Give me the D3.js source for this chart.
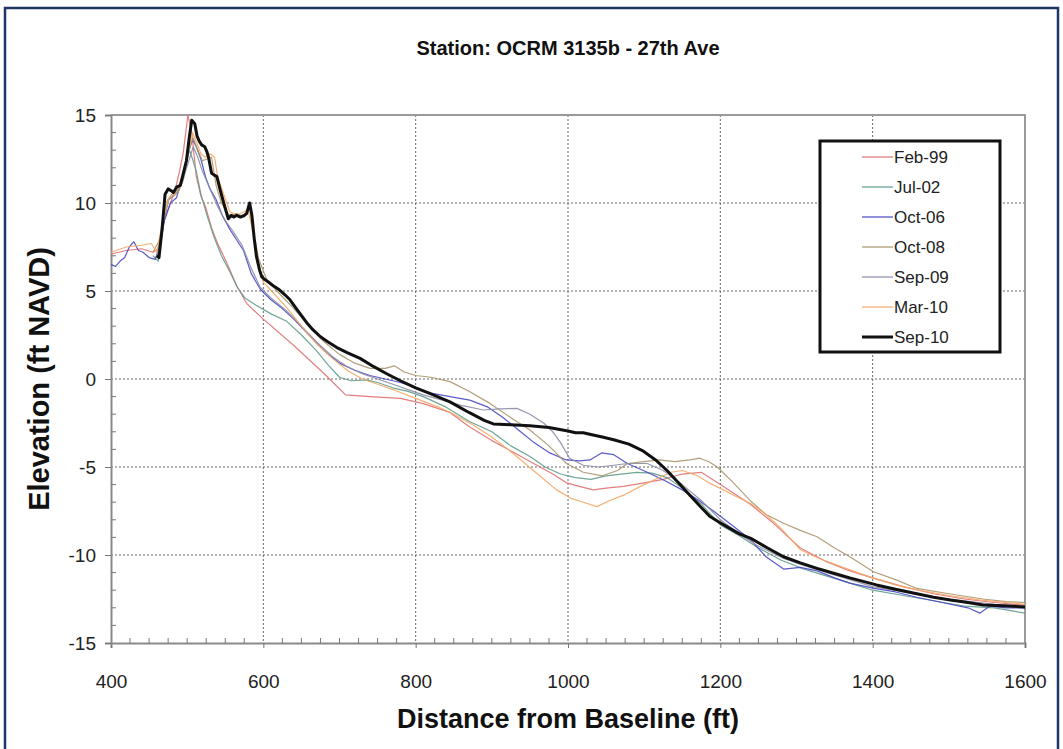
<!DOCTYPE html>
<html>
<head>
<meta charset="utf-8">
<script src="https://cdn.jsdelivr.net/npm/d3@7"></script>
<style>
  html, body { margin: 0; padding: 0; background: #fff; }
  svg { display: block; }
  text { font-family: "Liberation Sans", Arial, sans-serif; }
</style>
</head>
<body>
<svg id="chart" width="1063" height="749"></svg>
<script>
// Beach profile survey, station OCRM 3135b (27th Ave)
const chartTitle = "Station: OCRM 3135b - 27th Ave";
const xTitle = "Distance from Baseline (ft)";
const yTitle = "Elevation (ft NAVD)";

const xTicks = [400, 600, 800, 1000, 1200, 1400, 1600];
const yTicks = [-15, -10, -5, 0, 5, 10, 15];

const surveys = ["Feb-99", "Jul-02", "Oct-06", "Oct-08", "Sep-09", "Mar-10", "Sep-10"];
const surveyColors = ["#e07070", "#5e9c8c", "#4848c4", "#a8966a", "#8c8ca6", "#f2a866", "#111111"];

// [distance (ft), elevation (ft NAVD)]
const feb99 = [[400,7.1],[420,7.3],[440,7.4],[455,7.2],[462,7.4],[470,9.0],[478,10.0],[484,10.7],[490,11.8],[495,12.9],[501,15.0],[506,14.0],[512,11.5],[518,10.4],[524,9.8],[532,8.6],[540,7.7],[552,6.6],[565,5.3],[578,4.3],[585,4.0],[600,3.4],[640,1.9],[680,0.3],[708,-0.9],[740,-1.0],[780,-1.1],[810,-1.4],[845,-1.9],[870,-2.7],[900,-3.5],[930,-4.2],[955,-4.8],[980,-5.4],[998,-5.9],[1015,-6.1],[1033,-6.3],[1050,-6.2],[1073,-6.1],[1100,-5.9],[1125,-5.7],[1150,-5.4],[1175,-5.3],[1200,-6.0],[1239,-7.1],[1270,-8.2],[1305,-9.6],[1340,-10.4],[1370,-10.9],[1400,-11.3],[1440,-11.8],[1480,-12.2],[1520,-12.5],[1560,-12.7],[1600,-12.85]];

const jul02 = [[455,7.0],[462,6.7],[468,8.5],[475,10.2],[482,10.4],[490,10.9],[497,12.0],[503,13.0],[507,12.5],[512,11.8],[518,10.5],[526,9.3],[535,8.1],[545,7.0],[556,6.1],[566,5.2],[576,4.6],[590,4.2],[610,3.7],[630,3.3],[650,2.5],[670,1.6],[685,0.8],[700,0.1],[715,-0.1],[735,-0.05],[750,-0.2],[770,-0.5],[790,-0.7],[810,-1.0],[840,-1.6],[870,-2.4],[900,-3.0],[925,-3.8],[950,-4.4],[970,-5.0],[990,-5.4],[1010,-5.6],[1030,-5.7],[1050,-5.5],[1070,-5.4],[1090,-5.3],[1110,-5.35],[1130,-5.6],[1150,-6.2],[1175,-7.1],[1200,-8.3],[1225,-8.9],[1250,-9.6],[1280,-10.3],[1310,-10.8],[1340,-11.2],[1370,-11.6],[1400,-12.0],[1440,-12.3],[1480,-12.6],[1520,-12.9],[1560,-13.0],[1600,-13.3]];

const oct06 = [[400,6.5],[406,6.4],[412,6.7],[418,6.9],[424,7.5],[430,7.8],[436,7.3],[442,7.2],[450,6.9],[458,6.8],[464,7.5],[470,9.0],[478,10.0],[486,10.3],[494,11.5],[501,12.8],[507,13.6],[512,13.2],[518,12.5],[524,11.5],[530,10.8],[538,10.2],[546,9.3],[556,8.5],[565,7.9],[574,7.3],[584,6.0],[596,5.1],[610,4.5],[625,4.0],[640,3.4],[660,2.5],[680,1.6],[700,0.9],[720,0.5],[740,0.2],[760,0.0],[780,-0.2],[800,-0.5],[820,-0.8],[845,-1.0],[871,-1.2],[895,-1.6],[915,-2.2],[935,-2.9],[955,-3.6],[976,-4.2],[998,-4.6],[1015,-4.65],[1029,-4.6],[1044,-4.2],[1060,-4.3],[1078,-4.8],[1104,-5.3],[1128,-5.8],[1150,-6.3],[1172,-6.9],[1194,-7.6],[1215,-8.3],[1239,-9.1],[1260,-10.1],[1283,-10.8],[1305,-10.7],[1327,-10.9],[1350,-11.3],[1370,-11.6],[1402,-11.9],[1430,-12.1],[1458,-12.4],[1480,-12.6],[1502,-12.8],[1525,-13.0],[1541,-13.3],[1554,-12.9],[1575,-13.0],[1600,-13.0]];

const oct08 = [[455,7.2],[465,8.0],[472,10.0],[480,10.5],[488,10.6],[495,11.3],[502,13.0],[508,13.7],[514,13.0],[520,12.4],[526,12.5],[532,12.6],[538,11.0],[545,10.0],[555,9.3],[565,9.4],[575,9.2],[582,9.7],[587,8.4],[594,6.8],[605,5.6],[620,4.9],[640,4.0],[660,3.0],[680,2.1],[700,1.4],[720,0.9],[740,0.6],[760,0.6],[772,0.75],[785,0.4],[800,0.2],[820,0.1],[845,-0.15],[870,-0.7],[898,-1.4],[925,-2.2],[950,-2.9],[975,-3.8],[998,-4.8],[1020,-5.3],[1045,-5.5],[1065,-5.2],[1078,-4.8],[1100,-4.7],[1120,-4.6],[1140,-4.7],[1160,-4.6],[1173,-4.5],[1185,-4.7],[1196,-5.0],[1215,-5.8],[1239,-6.9],[1260,-7.7],[1283,-8.2],[1305,-8.6],[1327,-8.96],[1350,-9.6],[1370,-10.1],[1401,-10.95],[1430,-11.4],[1458,-11.9],[1500,-12.2],[1545,-12.5],[1575,-12.65],[1600,-12.7]];

const sep09 = [[460,7.0],[468,8.8],[476,10.2],[485,10.5],[495,11.4],[503,12.5],[508,13.2],[514,12.6],[520,11.8],[530,10.8],[540,9.8],[550,9.0],[560,8.4],[572,7.6],[584,6.3],[596,5.2],[610,4.6],[630,3.9],[650,3.0],[670,2.1],[690,1.3],[710,0.7],[730,0.3],[750,0.0],[770,-0.3],[790,-0.6],[810,-0.9],[835,-1.2],[860,-1.5],[889,-1.76],[910,-1.7],[933,-1.67],[950,-2.0],[968,-2.5],[980,-3.0],[990,-3.6],[1002,-4.5],[1020,-4.9],[1040,-5.0],[1060,-4.9],[1078,-4.8],[1104,-4.8],[1125,-5.2],[1150,-6.0],[1175,-6.9],[1200,-8.0],[1225,-8.8],[1250,-9.5],[1283,-10.2],[1310,-10.6],[1340,-11.0],[1370,-11.4],[1400,-11.8],[1440,-12.1],[1480,-12.4],[1520,-12.6],[1560,-12.8],[1600,-12.9]];

const mar10 = [[400,7.2],[420,7.5],[440,7.6],[453,7.7],[460,7.2],[468,9.0],[476,10.3],[484,10.5],[492,11.2],[500,12.5],[507,14.0],[512,13.5],[518,12.8],[524,12.6],[530,12.8],[536,12.6],[540,11.5],[548,10.5],[556,9.5],[565,9.3],[575,9.5],[580,9.6],[585,8.6],[592,6.8],[600,5.5],[615,4.8],[630,4.1],[650,3.0],[670,2.0],[690,1.2],[710,0.5],[730,0.0],[750,-0.3],[770,-0.6],[800,-1.1],[830,-1.6],[850,-2.0],[875,-2.6],[900,-3.3],[930,-4.3],[960,-5.4],[985,-6.3],[1005,-6.8],[1020,-7.0],[1038,-7.25],[1055,-6.9],[1073,-6.6],[1095,-6.1],[1115,-5.7],[1135,-5.3],[1150,-5.2],[1170,-5.5],[1185,-5.9],[1204,-6.3],[1222,-6.7],[1239,-7.06],[1260,-7.7],[1280,-8.5],[1305,-9.7],[1330,-10.2],[1355,-10.6],[1380,-11.0],[1400,-11.3],[1430,-11.7],[1460,-12.0],[1500,-12.3],[1540,-12.55],[1575,-12.7],[1600,-12.8]];

const sep10 = [[460,7.0],[463,6.9],[467,8.5],[471,10.5],[475,10.8],[479,10.7],[482,10.6],[486,10.9],[491,11.0],[495,11.7],[499,12.4],[503,13.8],[506,14.7],[510,14.5],[513,13.8],[516,13.5],[519,13.3],[523,13.2],[526,12.9],[528,12.6],[532,11.7],[535,11.6],[539,11.5],[543,10.8],[548,10.0],[554,9.1],[558,9.3],[561,9.2],[565,9.3],[570,9.2],[575,9.3],[578,9.4],[582,10.0],[585,9.3],[588,8.0],[591,6.95],[595,6.2],[598,5.8],[602,5.65],[607,5.5],[613,5.3],[620,5.1],[628,4.8],[635,4.5],[645,3.9],[657,3.2],[665,2.8],[675,2.4],[685,2.1],[696,1.8],[710,1.5],[727,1.17],[745,0.7],[762,0.3],[780,-0.1],[800,-0.5],[820,-0.85],[845,-1.3],[870,-1.9],[890,-2.35],[902,-2.55],[925,-2.6],[950,-2.65],[975,-2.75],[1000,-2.95],[1010,-3.05],[1020,-3.05],[1030,-3.15],[1045,-3.3],[1060,-3.45],[1080,-3.7],[1099,-4.1],[1115,-4.6],[1130,-5.2],[1145,-5.9],[1160,-6.6],[1175,-7.3],[1186,-7.8],[1197,-8.1],[1209,-8.4],[1225,-8.8],[1240,-9.05],[1262,-9.6],[1283,-10.1],[1305,-10.45],[1327,-10.76],[1350,-11.05],[1370,-11.3],[1405,-11.7],[1430,-11.95],[1458,-12.2],[1480,-12.4],[1502,-12.56],[1525,-12.7],[1545,-12.84],[1570,-12.88],[1600,-12.95]];

const seriesData = [feb99, jul02, oct06, oct08, sep09, mar10, sep10];

// ---- layout ----
const svg = d3.select("#chart");
const W = 1063, H = 749;
const plot = { left: 111, right: 1025, top: 115, bottom: 643 };

const x = d3.scaleLinear().domain([400, 1600]).range([plot.left, plot.right]);
const y = d3.scaleLinear().domain([-15, 15]).range([plot.bottom, plot.top]);

// outer frame
svg.append("rect")
  .attr("x", 5).attr("y", 8).attr("width", W - 10).attr("height", H + 10)
  .attr("fill", "#fff").attr("stroke", "#1f3566").attr("stroke-width", 2.5);

// title
svg.append("text")
  .attr("x", 568).attr("y", 55)
  .attr("text-anchor", "middle")
  .attr("font-size", 20).attr("font-weight", "bold").attr("fill", "#111")
  .text(chartTitle);

// gridlines
const grid = svg.append("g").attr("class", "grid");
grid.selectAll("line.gx").data(xTicks.slice(1, -1)).join("line")
  .attr("x1", d => x(d)).attr("x2", d => x(d))
  .attr("y1", plot.top).attr("y2", plot.bottom)
  .attr("stroke", "#666").attr("stroke-width", 1).attr("stroke-dasharray", "2,2");
grid.selectAll("line.gy").data(yTicks.slice(1, -1)).join("line")
  .attr("x1", plot.left).attr("x2", plot.right)
  .attr("y1", d => y(d)).attr("y2", d => y(d))
  .attr("stroke", "#666").attr("stroke-width", 1).attr("stroke-dasharray", "2,2");

// top/right frame of the plot area
svg.append("path")
  .attr("d", `M${plot.left},${plot.top}H${plot.right}V${plot.bottom}`)
  .attr("fill", "none").attr("stroke", "#9a9a9a").attr("stroke-width", 2);

// axes: major ticks outward with labels (plain hyphen for negatives)
const fmt = d => String(d);
const xAxis = d3.axisBottom(x).tickValues(xTicks).tickSize(5).tickPadding(27).tickFormat(fmt);
const yAxis = d3.axisLeft(y).tickValues(yTicks).tickSize(6).tickPadding(9).tickFormat(fmt);

const gx = svg.append("g").attr("transform", `translate(0,${plot.bottom})`).call(xAxis);
const gy = svg.append("g").attr("transform", `translate(${plot.left},0)`).call(yAxis);
[gx, gy].forEach(g => {
  g.select(".domain").attr("stroke", "#8a8a8a").attr("stroke-width", 2);
  g.selectAll(".tick line").attr("stroke", "#777").attr("stroke-width", 1);
  g.selectAll(".tick text").attr("font-size", 19).attr("fill", "#222")
    .attr("font-family", "'Liberation Sans', Arial, sans-serif");
});

// minor ticks pointing into the plot
const xMinor = d3.range(425, 1600, 25).filter(v => v % 200 !== 0);
const yMinor = d3.range(-14, 15, 1).filter(v => v % 5 !== 0);
svg.append("g").selectAll("line").data(xMinor).join("line")
  .attr("x1", d => x(d)).attr("x2", d => x(d))
  .attr("y1", plot.bottom).attr("y2", plot.bottom - 5)
  .attr("stroke", "#777").attr("stroke-width", 1);
svg.append("g").selectAll("line").data(yMinor).join("line")
  .attr("x1", plot.left).attr("x2", plot.left + 5)
  .attr("y1", d => y(d)).attr("y2", d => y(d))
  .attr("stroke", "#777").attr("stroke-width", 1);

// axis titles
svg.append("text")
  .attr("x", 568).attr("y", 728)
  .attr("text-anchor", "middle")
  .attr("font-size", 27).attr("font-weight", "bold").attr("fill", "#111")
  .text(xTitle);
svg.append("text")
  .attr("transform", `translate(49,${(plot.top + plot.bottom) / 2}) rotate(-90)`)
  .attr("text-anchor", "middle")
  .attr("font-size", 29).attr("font-weight", "bold").attr("fill", "#111")
  .text(yTitle);

// profile lines, clipped to the plot area
svg.append("clipPath").attr("id", "plotClip")
  .append("rect").attr("x", plot.left).attr("y", plot.top - 2)
  .attr("width", plot.right - plot.left).attr("height", plot.bottom - plot.top + 2);
const line = d3.line().x(d => x(d[0])).y(d => y(d[1]));
const lines = svg.append("g").attr("clip-path", "url(#plotClip)");

seriesData.forEach((data, i) => {
  const isLast = i === seriesData.length - 1;
  lines.append("path")
    .datum(data)
    .attr("d", line)
    .attr("fill", "none")
    .attr("stroke", surveyColors[i])
    .attr("stroke-width", isLast ? 3 : 1.2)
    .attr("stroke-linejoin", "round")
    .attr("opacity", isLast ? 1 : 0.9);
});

// legend
const legend = svg.append("g");
legend.append("rect")
  .attr("x", 820).attr("y", 141).attr("width", 180).attr("height", 211)
  .attr("fill", "#fff").attr("stroke", "#111").attr("stroke-width", 3);
const rows = legend.selectAll("g.row").data(surveys).join("g")
  .attr("transform", (d, i) => `translate(0,${157 + i * 30})`);
rows.append("line")
  .attr("x1", 862).attr("x2", 893).attr("y1", 0).attr("y2", 0)
  .attr("stroke", (d, i) => surveyColors[i])
  .attr("stroke-width", (d, i) => i === surveys.length - 1 ? 3 : 1.2);
rows.append("text")
  .attr("x", 894).attr("y", 6)
  .attr("font-size", 17).attr("fill", "#222")
  .text(d => d);
</script>
</body>
</html>
